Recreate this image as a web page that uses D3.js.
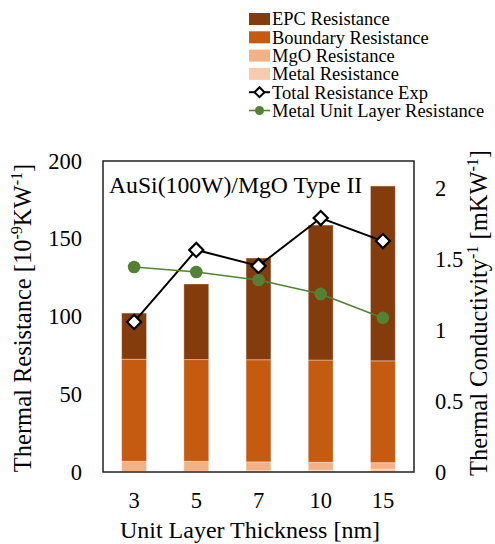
<!DOCTYPE html>
<html>
<head>
<meta charset="utf-8">
<script src="https://cdn.jsdelivr.net/npm/d3@7.9.0/dist/d3.min.js"></script>
<style>
  body { margin: 0; background: #fff; }
  svg text { font-family: "Liberation Serif", "Times New Roman", serif; fill: #000; }
</style>
</head>
<body>
<div id="chart"></div>
<script>
// data
const categories = ["3", "5", "7", "10", "15"];
const metalRes = [0.3, 0.5, 0.8, 1.2, 1.8];
const mgoRes = [6.6, 6.4, 5.7, 5.1, 4.2];
const boundaryRes = [65.6, 65.4, 65.7, 65.7, 65.5];
const epcRes = [29.7, 48.6, 65.4, 86.8, 112.4];
const totalExp = [96.5, 142.8, 132.5, 163.3, 148.5];
const metalUnitLayer = [1.444, 1.408, 1.352, 1.254, 1.085];
const leftTicks = [0, 50, 100, 150, 200];
const rightTicks = [0, 0.5, 1, 1.5, 2];

const width = 495, height = 544;
const plotL = 103, plotR = 414, plotT = 161, plotB = 472;

const svg = d3.select("#chart").append("svg")
    .attr("width", width)
    .attr("height", height)
    .attr("font-family", "Liberation Serif");

const x = d3.scaleBand()
    .domain(categories)
    .range([plotL, plotR])
    .paddingInner(0.6)
    .paddingOuter(0.3);

const y = d3.scaleLinear().domain([0, 200]).range([plotB, plotT]);
const y2 = d3.scaleLinear().domain([0, 2.19]).range([plotB, plotT]);

const keys = ["metal", "mgo", "boundary", "epc"];
const colors = { metal: "#f8cbad", mgo: "#f4b183", boundary: "#c55a11", epc: "#843c0c" };

const rows = categories.map((c, i) => ({
    cat: c, metal: metalRes[i], mgo: mgoRes[i], boundary: boundaryRes[i], epc: epcRes[i]
}));
const series = d3.stack().keys(keys)(rows);

svg.append("g").selectAll("g")
    .data(series)
    .join("g")
    .attr("fill", d => colors[d.key])
    .selectAll("rect")
    .data(d => d)
    .join("rect")
    .attr("x", d => x(d.data.cat))
    .attr("width", x.bandwidth())
    .attr("y", d => y(d[1]))
    .attr("height", d => y(d[0]) - y(d[1]))
    .attr("stroke", "#fff")
    .attr("stroke-opacity", 0.35)
    .attr("stroke-width", 1);

// frame
svg.append("rect")
    .attr("x", plotL).attr("y", plotT)
    .attr("width", plotR - plotL).attr("height", plotB - plotT)
    .attr("fill", "none")
    .attr("stroke", "#222")
    .attr("stroke-width", 1.5);

const tickSize = "22.5px";

// left axis
const yAxis = svg.append("g")
    .attr("transform", `translate(${plotL},0)`)
    .call(d3.axisLeft(y).tickValues(leftTicks).tickSize(0).tickPadding(21));
yAxis.attr("font-family", null).attr("font-size", null);
yAxis.select(".domain").remove();
yAxis.selectAll("text").style("font-size", tickSize).style("font-family", "'Liberation Serif', serif");

// right axis
const y2Axis = svg.append("g")
    .attr("transform", `translate(${plotR},0)`)
    .call(d3.axisRight(y2).tickValues(rightTicks).tickSize(0).tickPadding(21)
        .tickFormat(d3.format("")));
y2Axis.attr("font-family", null).attr("font-size", null);
y2Axis.select(".domain").remove();
y2Axis.selectAll("text").style("font-size", tickSize).style("font-family", "'Liberation Serif', serif");

// bottom axis
const xAxis = svg.append("g")
    .attr("transform", `translate(0,${plotB})`)
    .call(d3.axisBottom(x).tickSize(0).tickPadding(20));
xAxis.attr("font-family", null).attr("font-size", null);
xAxis.select(".domain").remove();
xAxis.selectAll("text").style("font-size", tickSize).style("font-family", "'Liberation Serif', serif");

// total resistance line (left axis)
const cx = d => x(d) + x.bandwidth() / 2;
svg.append("path")
    .datum(totalExp)
    .attr("fill", "none")
    .attr("stroke", "#000")
    .attr("stroke-width", 2)
    .attr("d", d3.line().x((d, i) => cx(categories[i])).y(d => y(d)));

svg.append("g").selectAll("rect")
    .data(totalExp)
    .join("rect")
    .attr("x", -5).attr("y", -5)
    .attr("width", 10).attr("height", 10)
    .attr("transform", (d, i) => `translate(${cx(categories[i])},${y(d)}) rotate(45)`)
    .attr("fill", "#fff")
    .attr("stroke", "#000")
    .attr("stroke-width", 2.2);

// metal unit layer line (right axis)
svg.append("path")
    .datum(metalUnitLayer)
    .attr("fill", "none")
    .attr("stroke", "#548235")
    .attr("stroke-width", 1.6)
    .attr("d", d3.line().x((d, i) => cx(categories[i])).y(d => y2(d)));

svg.append("g").selectAll("circle")
    .data(metalUnitLayer)
    .join("circle")
    .attr("cx", (d, i) => cx(categories[i]))
    .attr("cy", d => y2(d))
    .attr("r", 6.3)
    .attr("fill", "#548235");

// in-plot title
svg.append("text")
    .attr("x", 109).attr("y", 193)
    .style("font-size", "23.7px")
    .text("AuSi(100W)/MgO Type II");

// axis titles
const titleSize = "24.5px", supSize = "16px";
const yt = svg.append("text")
    .attr("transform", `translate(31,318) rotate(-90)`)
    .attr("text-anchor", "middle")
    .style("font-size", titleSize);
yt.append("tspan").text("Thermal Resistance [10");
yt.append("tspan").attr("dy", -9).style("font-size", supSize).text("-9");
yt.append("tspan").attr("dy", 9).text("KW");
yt.append("tspan").attr("dy", -9).style("font-size", supSize).text("-1");
yt.append("tspan").attr("dy", 9).text("]");

const yt2 = svg.append("text")
    .attr("transform", `translate(487,313) rotate(-90)`)
    .attr("text-anchor", "middle")
    .style("font-size", titleSize);
yt2.append("tspan").text("Thermal Conductivity");
yt2.append("tspan").attr("dy", -9).style("font-size", supSize).text("-1");
yt2.append("tspan").attr("dy", 9).text(" [mKW");
yt2.append("tspan").attr("dy", -9).style("font-size", supSize).text("-1");
yt2.append("tspan").attr("dy", 9).text("]");

svg.append("text")
    .attr("x", 250).attr("y", 538)
    .attr("text-anchor", "middle")
    .style("font-size", "24px")
    .text("Unit Layer Thickness [nm]");

// legend
const legendItems = [
    { label: "EPC Resistance", type: "box", color: colors.epc },
    { label: "Boundary Resistance", type: "box", color: colors.boundary },
    { label: "MgO Resistance", type: "box", color: colors.mgo },
    { label: "Metal Resistance", type: "box", color: colors.metal },
    { label: "Total Resistance Exp", type: "diamond", color: "#000" },
    { label: "Metal Unit Layer Resistance", type: "circle", color: "#548235" }
];
const lg = svg.append("g").attr("transform", "translate(249,19)");
const item = lg.selectAll("g")
    .data(legendItems)
    .join("g")
    .attr("transform", (d, i) => `translate(0,${i * 18.3})`);

item.filter(d => d.type === "box").append("rect")
    .attr("x", 0).attr("y", -6)
    .attr("width", 21).attr("height", 12)
    .attr("fill", d => d.color);

item.filter(d => d.type !== "box").append("line")
    .attr("x1", 0).attr("x2", 21)
    .attr("stroke", d => d.color)
    .attr("stroke-width", d => d.type === "diamond" ? 2 : 1.6);

item.filter(d => d.type === "diamond").append("rect")
    .attr("x", -3.5).attr("y", -3.5)
    .attr("width", 7).attr("height", 7)
    .attr("transform", "translate(10.5,0) rotate(45)")
    .attr("fill", "#fff")
    .attr("stroke", "#000")
    .attr("stroke-width", 2);

item.filter(d => d.type === "circle").append("circle")
    .attr("cx", 10.5).attr("r", 4.5)
    .attr("fill", d => d.color);

item.append("text")
    .attr("x", 23).attr("dy", "0.35em")
    .style("font-size", "18.5px")
    .text(d => d.label);
</script>
</body>
</html>
